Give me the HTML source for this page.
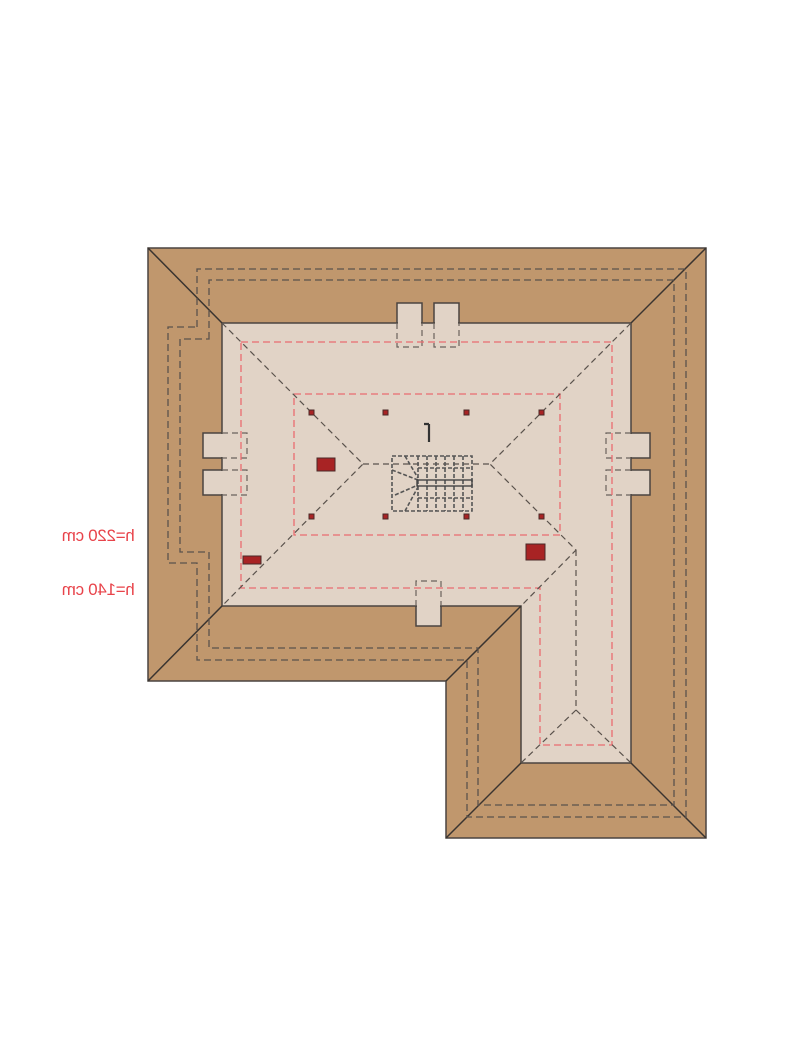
<!DOCTYPE html>
<html><head><style>
body{margin:0;background:#fff;}
.t{position:absolute;font-family:"Liberation Sans",sans-serif;color:#e8434a;font-size:17px;transform:scaleX(-1);transform-origin:center;white-space:nowrap;letter-spacing:-0.3px;}
</style></head><body>
<div style="position:relative;width:800px;height:1049px;">
<svg width="800" height="1049" style="position:absolute;left:0;top:0">
<polygon points="148,248 706,248 706,838 446,838 446,681 148,681" fill="#c0976d" stroke="#4a4440" stroke-width="1.5"/>
<g fill="#e1d3c6" stroke="#4a4440" stroke-width="1.5">
<rect x="397" y="303" width="25" height="30"/><rect x="434" y="303" width="25" height="30"/>
<rect x="203" y="433" width="30" height="25"/><rect x="203" y="470" width="30" height="25"/>
<rect x="620" y="433" width="30" height="25"/><rect x="620" y="470" width="30" height="25"/>
<rect x="416" y="596" width="25" height="30"/>
</g>
<polygon points="222,323 631,323 631,763 521,763 521,606 222,606" fill="#e1d3c6" stroke="#4a4440" stroke-width="1.5"/>
<g fill="#e1d3c6" stroke="none">
<rect x="398" y="320" width="23" height="6"/><rect x="435" y="320" width="23" height="6"/>
<rect x="219" y="434" width="6" height="23"/><rect x="219" y="471" width="6" height="23"/>
<rect x="628" y="434" width="6" height="23"/><rect x="628" y="471" width="6" height="23"/>
<rect x="417" y="603" width="23" height="6"/>
</g>
<g fill="none" stroke="#6a625c" stroke-width="1.2" stroke-dasharray="6,4">
<path d="M397,323V347H422V323M434,323V347H459V323"/>
<path d="M222,433H247V458H222M222,470H247V495H222"/>
<path d="M631,433H606V458H631M631,470H606V495H631"/>
<path d="M416,606V581H441V606"/>
</g>
<g stroke="#3a3430" stroke-width="1.5">
<line x1="148" y1="248" x2="222" y2="323"/><line x1="706" y1="248" x2="631" y2="323"/>
<line x1="148" y1="681" x2="222" y2="606"/><line x1="446" y1="681" x2="521" y2="606"/>
<line x1="446" y1="838" x2="521" y2="763"/><line x1="706" y1="838" x2="631" y2="763"/>
</g>
<g fill="none" stroke="#5a524c" stroke-width="1.3" stroke-dasharray="7,4">
<path d="M197,327V269H686V817H467V660H197V563H168V327Z"/>
<path d="M209,339V280H674V805H478V648H209V552H180V339Z"/>
</g>
<g fill="none" stroke="#ea6b6f" stroke-width="1.3" stroke-dasharray="7,4">
<path d="M241,342H612V745H540V588H241Z"/>
<rect x="294" y="394" width="266" height="141"/>
</g>
<g fill="none" stroke="#5a524c" stroke-width="1.2" stroke-dasharray="6,4">
<path d="M222,323L363,464L222,606M631,323L490,464L576,550L521,606M363,464H490M576,550V710L521,763M576,710L631,763"/>
</g>
<g fill="none" stroke="#555" stroke-width="1.6" stroke-dasharray="4,2">
<rect x="392" y="456" width="80" height="55"/>
<path d="M418,456V511M427,456V511M436,456V511M445,456V511M454,456V511M463,456V511"/>
<path d="M418,468H472M418,498H472"/>
<path d="M392,470L418,480M395,495L418,485M405,456L418,478M405,511L418,487"/>
</g>
<rect x="417" y="480" width="55" height="6" fill="none" stroke="#444" stroke-width="1.4"/>
<g fill="#a82324" stroke="#4a2a28" stroke-width="1">
<rect x="317" y="458" width="18" height="13"/>
<rect x="243" y="556" width="18" height="8"/>
<rect x="526" y="544" width="19" height="16"/>
<rect x="309" y="410" width="5" height="5"/><rect x="383" y="410" width="5" height="5"/>
<rect x="464" y="410" width="5" height="5"/><rect x="539" y="410" width="5" height="5"/>
<rect x="309" y="514" width="5" height="5"/><rect x="383" y="514" width="5" height="5"/>
<rect x="464" y="514" width="5" height="5"/><rect x="539" y="514" width="5" height="5"/>
</g>
<path d="M429,424H424M429,424V442" stroke="#333" stroke-width="2.2" fill="none"/>
</svg>
<div class="t" style="left:62px;top:526px;">h=220 cm</div>
<div class="t" style="left:62px;top:580px;">h=140 cm</div>
</div>
</body></html>
